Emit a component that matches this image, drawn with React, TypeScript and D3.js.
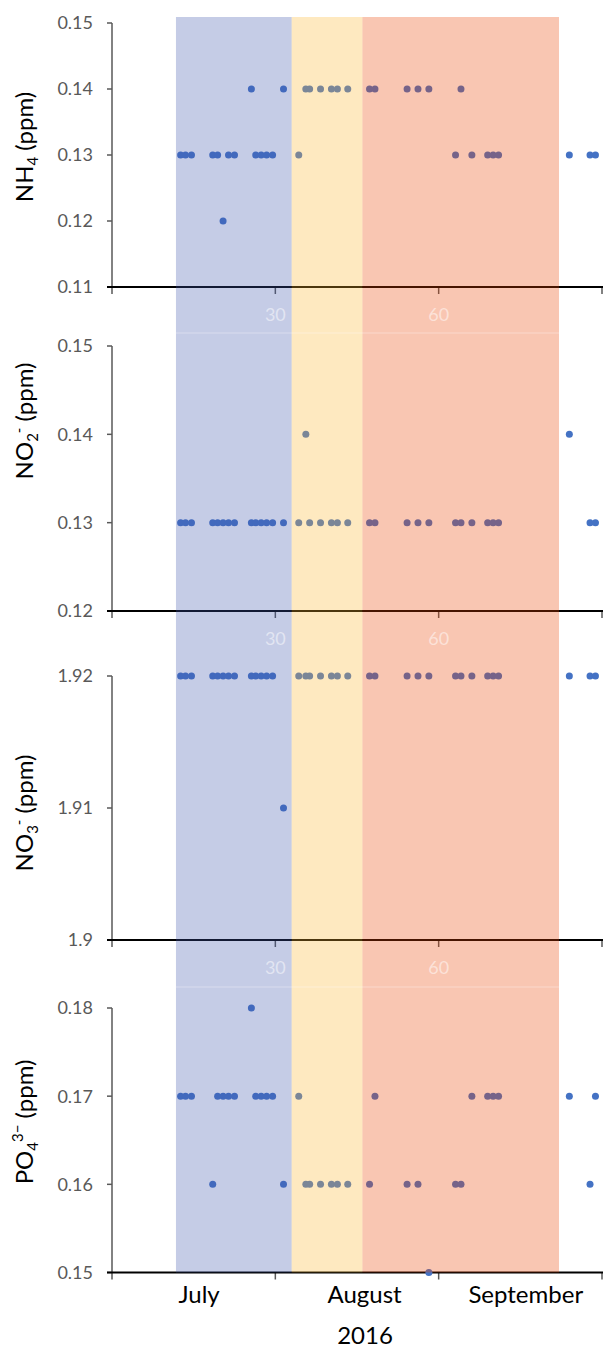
import { useEffect } from "react";
import * as d3 from "d3";

// sampling days (x axis: day count from mid June)
const days = [
  12.6, 13.5, 14.6, 18.5, 19.4, 20.4, 21.4, 22.5, 25.6, 26.4, 27.4, 28.4, 29.5, 31.5, 34.3, 35.6, 36.3, 38.3,
  40.3, 41.4, 43.3, 47.3, 48.3, 54.2, 56.2, 58.2, 63.1, 64.1, 66.1, 69.0, 70.0, 71.0, 84.0, 87.8, 88.8,
];

const nh4 = [
  0.13, 0.13, 0.13, 0.13, 0.13, 0.12, 0.13, 0.13, 0.14, 0.13, 0.13, 0.13, 0.13, 0.14, 0.13, 0.14, 0.14, 0.14,
  0.14, 0.14, 0.14, 0.14, 0.14, 0.14, 0.14, 0.14, 0.13, 0.14, 0.13, 0.13, 0.13, 0.13, 0.13, 0.13, 0.13,
];
const no2 = [
  0.13, 0.13, 0.13, 0.13, 0.13, 0.13, 0.13, 0.13, 0.13, 0.13, 0.13, 0.13, 0.13, 0.13, 0.13, 0.14, 0.13, 0.13,
  0.13, 0.13, 0.13, 0.13, 0.13, 0.13, 0.13, 0.13, 0.13, 0.13, 0.13, 0.13, 0.13, 0.13, 0.14, 0.13, 0.13,
];
const no3 = [
  1.92, 1.92, 1.92, 1.92, 1.92, 1.92, 1.92, 1.92, 1.92, 1.92, 1.92, 1.92, 1.92, 1.91, 1.92, 1.92, 1.92, 1.92,
  1.92, 1.92, 1.92, 1.92, 1.92, 1.92, 1.92, 1.92, 1.92, 1.92, 1.92, 1.92, 1.92, 1.92, 1.92, 1.92, 1.92,
];
const po4 = [
  0.17, 0.17, 0.17, 0.16, 0.17, 0.17, 0.17, 0.17, 0.18, 0.17, 0.17, 0.17, 0.17, 0.16, 0.17, 0.16, 0.16, 0.16,
  0.16, 0.16, 0.16, 0.16, 0.17, 0.16, 0.16, 0.15, 0.16, 0.16, 0.17, 0.17, 0.17, 0.17, 0.17, 0.16, 0.17,
];

const nh4Ticks = [0.11, 0.12, 0.13, 0.14, 0.15];
const no2Ticks = [0.12, 0.13, 0.14, 0.15];
const no3Ticks = [1.9, 1.91, 1.92];
const po4Ticks = [0.15, 0.16, 0.17, 0.18];

const xTicks = [0, 30, 60, 90];
const xTickLabels = [30, 60];

// seasonal bands [start, end] in days
const bandStarts = [11.75, 33, 46];
const bandEnds = [33, 46, 82.1];
const bandColors = ["rgb(62,85,172)", "rgb(252,182,48)", "rgb(235,65,0)"];

const months = ["July", "August", "September"];
const monthCenters = [16, 46.4, 76];
const year = "2016";

const FONT = "Lato, 'Open Sans', sans-serif";
const POINT = "#4472C4";
const AXIS_GREY = "#595959";

const x = d3.scaleLinear().domain([0, 90]).range([112, 602]);

type Panel = {
  values: number[];
  ticks: number[];
  top: number;
  bottom: number;
  titleY: number;
  title: "nh4" | "no2" | "no3" | "po4";
  whiteLabels: boolean;
};

const panels: Panel[] = [
  { values: nh4, ticks: nh4Ticks, top: 23, bottom: 287, titleY: 147, title: "nh4", whiteLabels: true },
  { values: no2, ticks: no2Ticks, top: 346, bottom: 611, titleY: 421, title: "no2", whiteLabels: true },
  { values: no3, ticks: no3Ticks, top: 676, bottom: 940, titleY: 813, title: "no3", whiteLabels: true },
  { values: po4, ticks: po4Ticks, top: 1008, bottom: 1272.5, titleY: 1122, title: "po4", whiteLabels: false },
];

const faintLines = [333, 987];

function fmt(v: number) {
  return String(+v.toFixed(2));
}

function Title({ kind, cy }: { kind: Panel["title"]; cy: number }) {
  const small = 15;
  let parts;
  if (kind === "nh4") {
    parts = [
      <tspan key="a">NH</tspan>,
      <tspan key="b" fontSize={small} dy={5}>4</tspan>,
      <tspan key="c" dy={-5}> (ppm)</tspan>,
    ];
  } else if (kind === "no2" || kind === "no3") {
    parts = [
      <tspan key="a">NO</tspan>,
      <tspan key="b" fontSize={small} dy={5}>{kind === "no2" ? "2" : "3"}</tspan>,
      <tspan key="c" fontSize={small} dy={-14}>-</tspan>,
      <tspan key="d" dy={9}> (ppm)</tspan>,
    ];
  } else {
    parts = [
      <tspan key="a">PO</tspan>,
      <tspan key="b" fontSize={small} dy={5}>4</tspan>,
      <tspan key="c" fontSize={small} dy={-15}>3−</tspan>,
      <tspan key="d" dy={10}> (ppm)</tspan>,
    ];
  }
  return (
    <text
      transform={`translate(33,${cy}) rotate(-90)`}
      textAnchor="middle"
      fontFamily={FONT}
      fontSize={24}
      fill="#000"
    >
      {parts}
    </text>
  );
}

export default function App() {
  useEffect(() => {
    document.body.style.margin = "0";
  }, []);

  const bandTop = 17;
  const bandBottom = 1272.5;

  return (
    <svg width={605} height={1351} style={{ display: "block", background: "#fff" }}>
      {/* axes and points */}
      {panels.map((p, pi) => {
        const y = d3.scaleLinear().domain(d3.extent(p.ticks) as [number, number]).range([p.bottom, p.top]);
        return (
          <g key={pi}>
            <line x1={x(0)} x2={x(0)} y1={p.top} y2={p.bottom + 7} stroke={AXIS_GREY} strokeWidth={1.5} />
            {p.ticks.map((t) => (
              <g key={t}>
                <line x1={x(0) - 5} x2={x(0)} y1={y(t)} y2={y(t)} stroke={AXIS_GREY} strokeWidth={1.5} />
                <text
                  x={93}
                  y={y(t)}
                  dy="0.36em"
                  textAnchor="end"
                  fontFamily={FONT}
                  fontSize={18}
                  fill={AXIS_GREY}
                >
                  {fmt(t)}
                </text>
              </g>
            ))}
            {xTicks.slice(1).map((t) => (
              <line key={t} x1={x(t)} x2={x(t)} y1={p.bottom} y2={p.bottom + 7} stroke={AXIS_GREY} strokeWidth={1.5} />
            ))}
            <line x1={x(0) - 5} x2={x(90) + 1} y1={p.bottom} y2={p.bottom} stroke="#000" strokeWidth={2} />
            <Title kind={p.title} cy={p.titleY} />
            {p.values.map((v, i) => (
              <circle key={i} cx={x(days[i])} cy={y(v)} r={3.5} fill={POINT} />
            ))}
          </g>
        );
      })}

      {/* seasonal bands overlay */}
      {bandStarts.map((s, i) => (
        <rect
          key={i}
          x={x(s)}
          y={bandTop}
          width={x(bandEnds[i]) - x(s)}
          height={bandBottom - bandTop}
          fill={bandColors[i]}
          fillOpacity={0.3}
        />
      ))}

      {/* faint white tick labels and chart-edge lines */}
      {panels
        .filter((p) => p.whiteLabels)
        .map((p, pi) =>
          xTickLabels.map((t) => (
            <text
              key={`${pi}-${t}`}
              x={x(t)}
              y={p.bottom + 34}
              textAnchor="middle"
              fontFamily={FONT}
              fontSize={18}
              fill="#fff"
              fillOpacity={0.5}
            >
              {t}
            </text>
          ))
        )}
      {faintLines.map((fy) => (
        <line
          key={fy}
          x1={x(bandStarts[0])}
          x2={x(bandEnds[2])}
          y1={fy}
          y2={fy}
          stroke="#fff"
          strokeOpacity={0.35}
          strokeWidth={1}
        />
      ))}

      {/* month labels */}
      {months.map((m, i) => (
        <text
          key={m}
          x={x(monthCenters[i])}
          y={1303}
          textAnchor="middle"
          fontFamily={FONT}
          fontSize={24}
          fill="#000"
        >
          {m}
        </text>
      ))}
      <text x={365} y={1344} textAnchor="middle" fontFamily={FONT} fontSize={24} fill="#000">
        {year}
      </text>
    </svg>
  );
}
